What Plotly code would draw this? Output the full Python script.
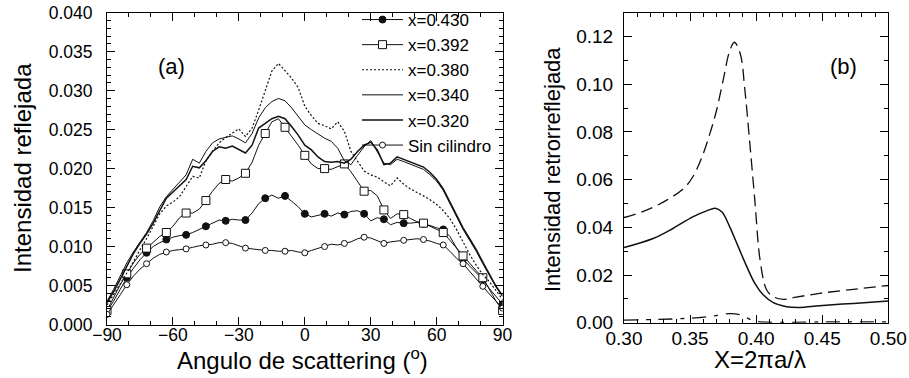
import plotly.graph_objects as go

# ---------------- data: panel (a) ----------------
angles = list(range(-90, 91, 3))

x430 = [.0017, .0030, .0045, .0060, .0072, .0083, .0092, .0100, .0105, .0109,
        .0112, .0114, .0115, .0118, .0122, .0126, .0130, .0134, .0133, .0135,
        .0134, .0134, .0143, .0155, .0162, .0166, .0162, .0165, .0158, .0151,
        .0142, .0138, .0140, .0142, .0139, .0143, .0141, .0145, .0146, .0142,
        .0133, .0137, .0135, .0128, .0131, .0130, .0130, .0131, .0129, .0127,
        .0124, .0122, .0113, .0098, .0084, .0075, .0066, .0058, .0046, .0036,
        .0026]
x392 = [.0018, .0035, .0051, .0065, .0079, .0090, .0098, .0106, .0113, .0118,
        .0126, .0137, .0143, .0143, .0148, .0159, .0171, .0181, .0186, .0184,
        .0188, .0194, .0208, .0230, .0245, .0260, .0264, .0253, .0242, .0230,
        .0217, .0206, .0200, .0200, .0199, .0203, .0206, .0196, .0183, .0171,
        .0172, .0165, .0147, .0136, .0142, .0141, .0136, .0132, .0130, .0126,
        .0122, .0118, .0108, .0098, .0088, .0078, .0069, .0060, .0044, .0030,
        .0018]
x380 = [.0025, .0038, .0052, .0066, .0080, .0096, .0110, .0126, .0142, .0152,
        .0157, .0164, .0177, .0190, .0188, .0210, .0222, .0233, .0240, .0245,
        .0251, .0241, .0252, .0275, .0299, .0325, .0335, .0325, .0316, .0304,
        .0280, .0268, .0258, .0255, .0251, .0260, .0248, .0222, .0210, .0197,
        .0192, .0189, .0183, .0178, .0188, .0180, .0174, .0170, .0165, .0160,
        .0154, .0146, .0136, .0122, .0105, .0090, .0076, .0064, .0055, .0044,
        .0032]
x340 = [.0030, .0045, .0062, .0079, .0093, .0105, .0118, .0133, .0151, .0164,
        .0173, .0182, .0192, .0212, .0207, .0222, .0233, .0238, .0240, .0242,
        .0238, .0233, .0245, .0265, .0278, .0286, .0290, .0287, .0278, .0267,
        .0256, .0250, .0244, .0239, .0235, .0226, .0210, .0205, .0217, .0228,
        .0236, .0222, .0207, .0205, .0212, .0209, .0206, .0203, .0199, .0192,
        .0184, .0172, .0155, .0138, .0122, .0108, .0094, .0078, .0062, .0048,
        .0036]
x320 = [.0028, .0042, .0058, .0075, .0091, .0104, .0116, .0130, .0147, .0162,
        .0170, .0178, .0186, .0203, .0201, .0210, .0222, .0228, .0226, .0229,
        .0225, .0220, .0230, .0252, .0258, .0264, .0267, .0264, .0254, .0243,
        .0230, .0224, .0215, .0209, .0208, .0209, .0207, .0212, .0222, .0230,
        .0234, .0224, .0205, .0207, .0215, .0212, .0208, .0206, .0202, .0195,
        .0186, .0174, .0157, .0140, .0124, .0110, .0096, .0080, .0064, .0049,
        .0037]
sin_cil = [.0013, .0025, .0038, .0051, .0062, .0071, .0078, .0085, .0090, .0093,
           .0095, .0096, .0097, .0099, .0101, .0102, .0103, .0105, .0105, .0104,
           .0101, .0098, .0097, .0096, .0095, .0095, .0094, .0094, .0095, .0093,
           .0092, .0095, .0098, .0100, .0103, .0102, .0104, .0106, .0110, .0112,
           .0111, .0107, .0104, .0106, .0107, .0108, .0109, .0110, .0109, .0107,
           .0104, .0102, .0094, .0085, .0078, .0068, .0058, .0049, .0039, .0030,
           .0021]
names_a = ["x=0.430", "x=0.392", "x=0.380", "x=0.340", "x=0.320", "Sin cilindro"]

# ---------------- data: panel (b) ----------------
xb_dash = [0.300, 0.317, 0.332, 0.345, 0.352, 0.359, 0.365, 0.370, 0.375, 0.380, 0.3835,
           0.388, 0.3915, 0.395, 0.399, 0.403, 0.408, 0.413, 0.4205, 0.428, 0.448, 0.4735, 0.500]
yb_dash = [0.0441, 0.0472, 0.0513, 0.0562, 0.0611, 0.0695, 0.0793, 0.0890, 0.1016, 0.1140, 0.1176,
           0.1127, 0.0974, 0.0765, 0.0513, 0.0262, 0.0137, 0.0109, 0.0098, 0.0105, 0.0123, 0.0140, 0.0156]
xb_solid = [0.300, 0.322, 0.337, 0.352, 0.3625, 0.369, 0.374, 0.380, 0.3865, 0.393, 0.399,
            0.4055, 0.413, 0.423, 0.433, 0.448, 0.4735, 0.500]
yb_solid = [0.0315, 0.0353, 0.0395, 0.0444, 0.0469, 0.0480, 0.0465, 0.0402, 0.0318, 0.0234, 0.0165,
            0.0116, 0.0084, 0.0067, 0.0064, 0.0071, 0.0081, 0.0091]
xb_low = [0.300, 0.347, 0.3675, 0.380, 0.388, 0.398, 0.410, 0.450, 0.500]
yb_low = [0.0011, 0.0018, 0.0028, 0.0038, 0.0033, 0.0008, 0.0002, 0.0003, 0.0003]

FONT = "Liberation Sans, Arial, Helvetica, sans-serif"
INK = "#111111"

fig = go.Figure()

def add_series(y, name, dash, width, symbol=None, fill=None, msize=7):
    fig.add_trace(go.Scatter(x=angles, y=y, mode="lines", showlegend=False,
                             line=dict(color=INK, width=width, dash=dash),
                             xaxis="x", yaxis="y", hoverinfo="skip"))
    if symbol is not None:
        fig.add_trace(go.Scatter(x=angles[::3], y=y[::3], mode="markers", showlegend=False,
                                 marker=dict(symbol=symbol, size=msize, color=fill,
                                             line=dict(color=INK, width=1)),
                                 xaxis="x", yaxis="y"))
    # legend entry
    fig.add_trace(go.Scatter(x=[None], y=[None], name=name,
                             mode="lines+markers" if symbol else "lines",
                             line=dict(color=INK, width=width, dash=dash),
                             marker=dict(symbol=symbol or "circle", size=msize, color=fill,
                                         line=dict(color=INK, width=1)),
                             xaxis="x", yaxis="y"))

add_series(x430, names_a[0], "solid", 1, "circle", INK, 7)
add_series(x392, names_a[1], "solid", 1, "square", "white", 8)
add_series(x380, names_a[2], "2px,2px", 1.2)
add_series(x340, names_a[3], "solid", 1)
add_series(x320, names_a[4], "solid", 1.5)
add_series(sin_cil, names_a[5], "solid", 1, "circle", "white", 6)

fig.add_trace(go.Scatter(x=xb_dash, y=yb_dash, mode="lines", line=dict(color=INK, width=1.3, dash="12px,6px", shape="spline"),
                         xaxis="x2", yaxis="y2", showlegend=False))
fig.add_trace(go.Scatter(x=xb_solid, y=yb_solid, mode="lines", line=dict(color=INK, width=1.5, shape="spline"),
                         xaxis="x2", yaxis="y2", showlegend=False))
fig.add_trace(go.Scatter(x=xb_low, y=yb_low, mode="lines", line=dict(color=INK, width=1.3, dash="14px,8px,4px,8px", shape="spline"),
                         xaxis="x2", yaxis="y2", showlegend=False))

W, H = 909, 378
def px(x): return x / W
def py(y): return 1 - y / H

axis_common = dict(showgrid=False, zeroline=False, showline=True, linecolor="black", linewidth=1,
                   mirror="ticks", ticks="inside", ticklen=8, tickcolor="black", tickwidth=1,
                   automargin=False)
f_a = dict(family=FONT, size=17.5, color="black")
f_b = dict(family=FONT, size=19, color="black")

fig.update_layout(
    width=W, height=H,
    margin=dict(l=0, r=0, t=0, b=0, autoexpand=False),
    paper_bgcolor="white", plot_bgcolor="white",
    showlegend=True,
    legend=dict(x=px(357), y=py(2), xanchor="left", yanchor="top",
                bgcolor="rgba(0,0,0,0)", font=dict(family=FONT, size=17, color="black"),
                itemwidth=41, tracegroupgap=0),
    xaxis=dict(domain=[px(107), px(502.6)], range=[-90, 90], dtick=30, tick0=0,
               minor=dict(dtick=10, ticklen=4, ticks="inside", tickcolor="black"),
               anchor="y", tickfont=f_a, ticklabelstandoff=-6, **axis_common),
    yaxis=dict(domain=[py(324.5), py(12.7)], range=[0, 0.04], dtick=0.005, tickformat=".3f",
               minor=dict(dtick=0.001, ticklen=4, ticks="inside", tickcolor="black"),
               anchor="x", tickfont=f_a, ticklabelstandoff=10, **axis_common),
    xaxis2=dict(domain=[px(624), px(888.3)], range=[0.30, 0.50], dtick=0.05, tick0=0.3, tickformat=".2f",
                minor=dict(dtick=0.01, ticklen=4, ticks="inside", tickcolor="black"),
                anchor="y2", tickfont=f_b, ticklabelstandoff=-2, **axis_common),
    yaxis2=dict(domain=[py(322.7), py(12.7)], range=[0, 0.13], dtick=0.02, tickformat=".2f",
                minor=dict(dtick=0.01, ticklen=4, ticks="inside", tickcolor="black"),
                anchor="x2", tickfont=f_b, ticklabelstandoff=6, **axis_common),
)

def label(text, x, y, size, angle=0):
    fig.add_annotation(text=text, x=px(x), y=py(y), xref="paper", yref="paper", showarrow=False,
                       textangle=angle, xanchor="center", yanchor="middle",
                       font=dict(family=FONT, size=size, color="black"))

label("Intensidad reflejada", 22, 168, 24, -90)
label("Angulo de scattering (<sup>o</sup>)", 302, 359, 24)
label("X=2πa/λ", 760, 359.5, 24)
label("Intensidad retrorreflejada", 552, 170, 22, -90)
label("(a)", 171, 66, 22)
label("(b)", 843, 67, 22)

fig.write_html("out.html")
